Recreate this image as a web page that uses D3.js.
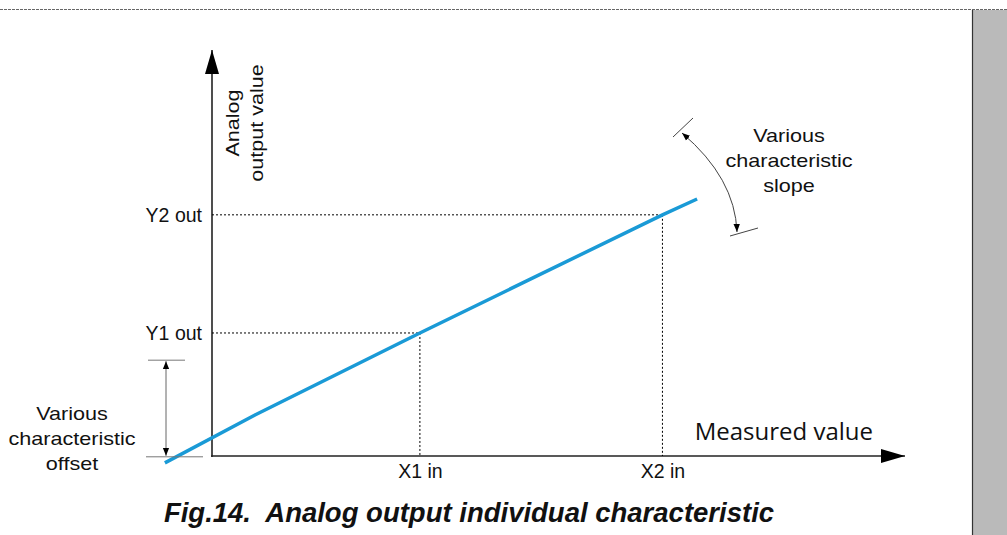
<!DOCTYPE html>
<html>
<head>
  <title>Analog output individual characteristic</title>
  <script src="https://cdn.jsdelivr.net/npm/d3@7/dist/d3.min.js"></script>
  <style>
    body { margin: 0; background: #fff; }
    text { font-family: "Liberation Sans", Arial, sans-serif; fill: #111; }
  </style>
</head>
<body>
  <div id="container"></div>
  <script>
    // characteristic line (measured value -> analog output), schematic units 0..100
    const lineX = [-6.8, 6.2, 30.0, 65.0, 70.0];
    const lineY = [-1.7, 10.1, 30.3, 59.4, 63.3];

    // tick labels on each axis
    const xTickLabels = ["X1 in", "X2 in"];
    const xTickValues = [30.0, 65.0];
    const yTickLabels = ["Y1 out", "Y2 out"];
    const yTickValues = [30.3, 59.4];

    const offsetText = ["Various", "characteristic", "offset"];
    const slopeText = ["Various", "characteristic", "slope"];
    const yTitle = ["Analog", "output value"];

    const width = 1007;
    const height = 535;

    const svg = d3.select("#container")
      .append("svg")
      .attr("width", width)
      .attr("height", height);

    // scales, range ends at the arrow tips
    const x = d3.scaleLinear().domain([0, 100]).range([212, 905]);
    const y = d3.scaleLinear().domain([0, 100]).range([456, 50]);

    const defs = svg.append("defs");
    defs.append("marker")
      .attr("id", "head")
      .attr("viewBox", "0 0 10 10")
      .attr("refX", 10).attr("refY", 5)
      .attr("markerWidth", 8).attr("markerHeight", 8)
      .attr("markerUnits", "userSpaceOnUse")
      .attr("orient", "auto-start-reverse")
      .append("path").attr("d", "M0,1 L10,5 L0,9 Z").attr("fill", "#000");
    defs.append("marker")
      .attr("id", "bigHead")
      .attr("viewBox", "0 0 10 10")
      .attr("refX", 10).attr("refY", 5)
      .attr("markerWidth", 24).attr("markerHeight", 14)
      .attr("markerUnits", "userSpaceOnUse")
      .attr("orient", "auto")
      .attr("preserveAspectRatio", "none")
      .append("path").attr("d", "M0,0 L10,5 L0,10 Z").attr("fill", "#000");

    // page frame: dashed top border and grey side panel
    svg.append("line")
      .attr("x1", 0).attr("x2", width).attr("y1", 9.5).attr("y2", 9.5)
      .attr("stroke", "#666").attr("stroke-dasharray", "3,1");
    svg.append("rect")
      .attr("x", 972).attr("y", 10).attr("width", 35).attr("height", height - 10)
      .attr("fill", "#bababa");
    svg.append("line")
      .attr("x1", 972.5).attr("x2", 972.5).attr("y1", 10).attr("y2", height)
      .attr("stroke", "#333").attr("stroke-width", 1.2);

    // axes (labels only, lines drawn with arrows below)
    const xAxis = svg.append("g")
      .attr("transform", `translate(0,${y(0)})`)
      .call(d3.axisBottom(x).tickValues(xTickValues)
        .tickFormat((d, i) => xTickLabels[i]).tickSize(0).tickPadding(8));
    const yAxis = svg.append("g")
      .attr("transform", `translate(${x(0)},0)`)
      .call(d3.axisLeft(y).tickValues(yTickValues)
        .tickFormat((d, i) => yTickLabels[i]).tickSize(0).tickPadding(10));

    [xAxis, yAxis].forEach(g => {
      g.select(".domain").remove();
      g.selectAll("text")
        .style("font-family", '"Liberation Sans", Arial, sans-serif')
        .style("font-size", "19.5px").attr("fill", "#111");
    });

    svg.append("line")
      .attr("x1", x(0) - 1).attr("x2", x(100)).attr("y1", y(0)).attr("y2", y(0))
      .attr("stroke", "#222").attr("stroke-width", 1.6)
      .attr("marker-end", "url(#bigHead)");
    svg.append("line")
      .attr("x1", x(0)).attr("x2", x(0)).attr("y1", y(0) + 1).attr("y2", y(100))
      .attr("stroke", "#222").attr("stroke-width", 1.6)
      .attr("marker-end", "url(#bigHead)");

    // projection lines from the two marked points
    const guides = svg.append("g")
      .attr("stroke", "#000").attr("stroke-width", 1).attr("stroke-dasharray", "2,2");
    xTickValues.forEach((xv, i) => {
      const yv = yTickValues[i];
      guides.append("line")
        .attr("x1", x(0)).attr("x2", x(xv)).attr("y1", y(yv)).attr("y2", y(yv));
      guides.append("line")
        .attr("x1", x(xv)).attr("x2", x(xv)).attr("y1", y(yv)).attr("y2", y(0));
    });

    // characteristic
    svg.append("path")
      .datum(lineX.map((d, i) => [d, lineY[i]]))
      .attr("fill", "none")
      .attr("stroke", "#1a9ad6")
      .attr("stroke-width", 3.5)
      .attr("d", d3.line().x(d => x(d[0])).y(d => y(d[1])));

    // multi-line label, text is slightly wide in the original so stretch it
    function block(transform, lines, step) {
      svg.append("text")
        .attr("transform", transform + " scale(1.2,1)")
        .attr("text-anchor", "middle")
        .style("font-size", "18px")
        .selectAll("tspan").data(lines).join("tspan")
        .attr("x", 0).attr("y", (d, i) => i * step)
        .text(d => d);
    }

    block("translate(239,123) rotate(-90)", yTitle, 24);
    block("translate(72,420)", offsetText, 25);
    block("translate(789,142)", slopeText, 25);

    svg.append("text")
      .attr("x", 873).attr("y", 440)
      .attr("text-anchor", "end")
      .style("font-family", '"Open Sans", "Noto Sans", sans-serif')
      .style("font-size", "24px")
      .text("Measured value");

    // offset annotation
    const offTop = y(23.6), offBottom = y(lineY[0] + 1.5);
    svg.append("line").attr("x1", 148).attr("x2", 185)
      .attr("y1", offTop).attr("y2", offTop).attr("stroke", "#777");
    svg.append("line").attr("x1", 146).attr("x2", 203)
      .attr("y1", offBottom).attr("y2", offBottom).attr("stroke", "#777");
    svg.append("line").attr("x1", 166).attr("x2", 166)
      .attr("y1", offTop + 1).attr("y2", offBottom - 1)
      .attr("stroke", "#666").attr("stroke-width", 1)
      .attr("marker-start", "url(#head)").attr("marker-end", "url(#head)");

    // slope annotation
    svg.append("line").attr("x1", 673).attr("y1", 137).attr("x2", 693).attr("y2", 118)
      .attr("stroke", "#444");
    svg.append("line").attr("x1", 730).attr("y1", 236).attr("x2", 758).attr("y2", 228)
      .attr("stroke", "#444");
    svg.append("path")
      .attr("d", "M682,133 Q735,178 737,232")
      .attr("fill", "none").attr("stroke", "#444").attr("stroke-width", 1)
      .attr("marker-start", "url(#head)").attr("marker-end", "url(#head)");

    // caption
    svg.append("text")
      .attr("x", 469).attr("y", 522)
      .attr("text-anchor", "middle")
      .style("font-size", "27.5px")
      .style("font-weight", "bold")
      .style("font-style", "italic")
      .attr("xml:space", "preserve")
      .text("Fig.14.  Analog output individual characteristic");
  </script>
</body>
</html>
